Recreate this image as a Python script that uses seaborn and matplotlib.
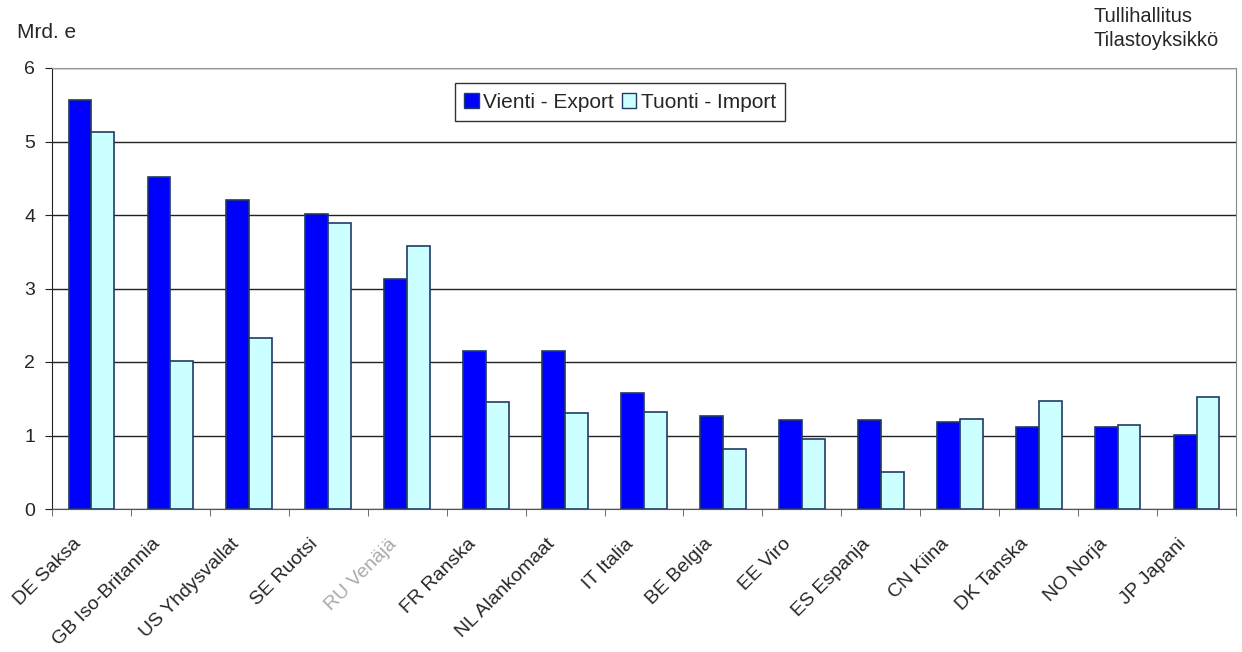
import pandas as pd
import matplotlib.pyplot as plt
import seaborn as sns
from matplotlib.patches import Patch
from matplotlib.transforms import ScaledTranslation

maat = ["DE Saksa", "GB Iso-Britannia", "US Yhdysvallat", "SE Ruotsi", "RU Venäjä",
        "FR Ranska", "NL Alankomaat", "IT Italia", "BE Belgia", "EE Viro",
        "ES Espanja", "CN Kiina", "DK Tanska", "NO Norja", "JP Japani"]
vienti = [5.56, 4.52, 4.20, 4.02, 3.13, 2.15, 2.15, 1.58, 1.27, 1.21, 1.21, 1.19, 1.12, 1.12, 1.01]
tuonti = [5.13, 2.02, 2.32, 3.89, 3.58, 1.45, 1.30, 1.32, 0.82, 0.95, 0.51, 1.23, 1.47, 1.14, 1.53]
sarjat = ["Vienti - Export", "Tuonti - Import"]
varit = ["#0000FF", "#CCFFFF"]

df = pd.DataFrame({"maa": maat * 2,
                   "sarja": [sarjat[0]] * len(maat) + [sarjat[1]] * len(maat),
                   "arvo": vienti + tuonti})

sns.set_style("white")
plt.rcParams["font.family"] = ["Liberation Sans", "DejaVu Sans"]

fig = plt.figure(figsize=(12.42, 6.52), dpi=100)
ax = fig.add_axes([52 / 1242, 1 - 509 / 652, 1184 / 1242, 441 / 652])

sns.barplot(data=df, x="maa", y="arvo", hue="sarja", palette=varit, width=0.58,
            edgecolor="#1F3B66", linewidth=1.2, saturation=1, legend=False, ax=ax, zorder=3)

ax.set_ylim(0, 6)
ax.set_xlim(-0.5, len(maat) - 0.5)
ax.set_yticks(range(0, 7))
ax.yaxis.grid(True, color="#222222", linewidth=1, zorder=0)
ax.set_xlabel("")
ax.set_ylabel("")

ax.spines["top"].set_color("#999999")
ax.spines["top"].set_zorder(5)
ax.spines["left"].set_color("#222222")
ax.spines["bottom"].set_color("#555555")
ax.spines["right"].set_color("#888888")

ax.tick_params(axis="y", length=5, direction="out", left=True, labelsize=14, color="#222222", pad=7)
ax.tick_params(axis="x", which="major", length=0, labelsize=14, pad=19)
ax.set_xticks([i + 0.5 for i in range(-1, len(maat))], minor=True)
ax.tick_params(axis="x", which="minor", length=5, direction="out", bottom=True, color="#555555")
ax.set_xticks(range(len(maat)))
ax.set_xticklabels(maat, rotation=45, ha="right", rotation_mode="anchor")
siirto = ScaledTranslation(-0.19, 0, fig.dpi_scale_trans)
for lab in ax.get_xticklabels():
    lab.set_transform(lab.get_transform() + siirto)
    if lab.get_text().startswith("RU"):
        lab.set_color("#AAAAAA")

kahvat = [Patch(facecolor=varit[i], edgecolor="#1F3B66", label=sarjat[i]) for i in range(2)]
leg = ax.legend(handles=kahvat, loc="upper left", bbox_to_anchor=(0.34, 0.965), ncol=2,
                fontsize=15, frameon=True, fancybox=False, edgecolor="black",
                handlelength=0.7, handleheight=0.7, handletextpad=0.2, columnspacing=0.4,
                borderpad=0.45, borderaxespad=0)
leg.get_frame().set_linewidth(1)

fig.text(17 / 1242, 1 - 32 / 652, "Mrd. e", fontsize=15, va="center", ha="left")
fig.text(1094 / 1242, 1 - 16 / 652, "Tullihallitus", fontsize=14.5, va="center", ha="left")
fig.text(1094 / 1242, 1 - 40 / 652, "Tilastoyksikkö", fontsize=14.5, va="center", ha="left")

fig.savefig("out.png", dpi=100)
